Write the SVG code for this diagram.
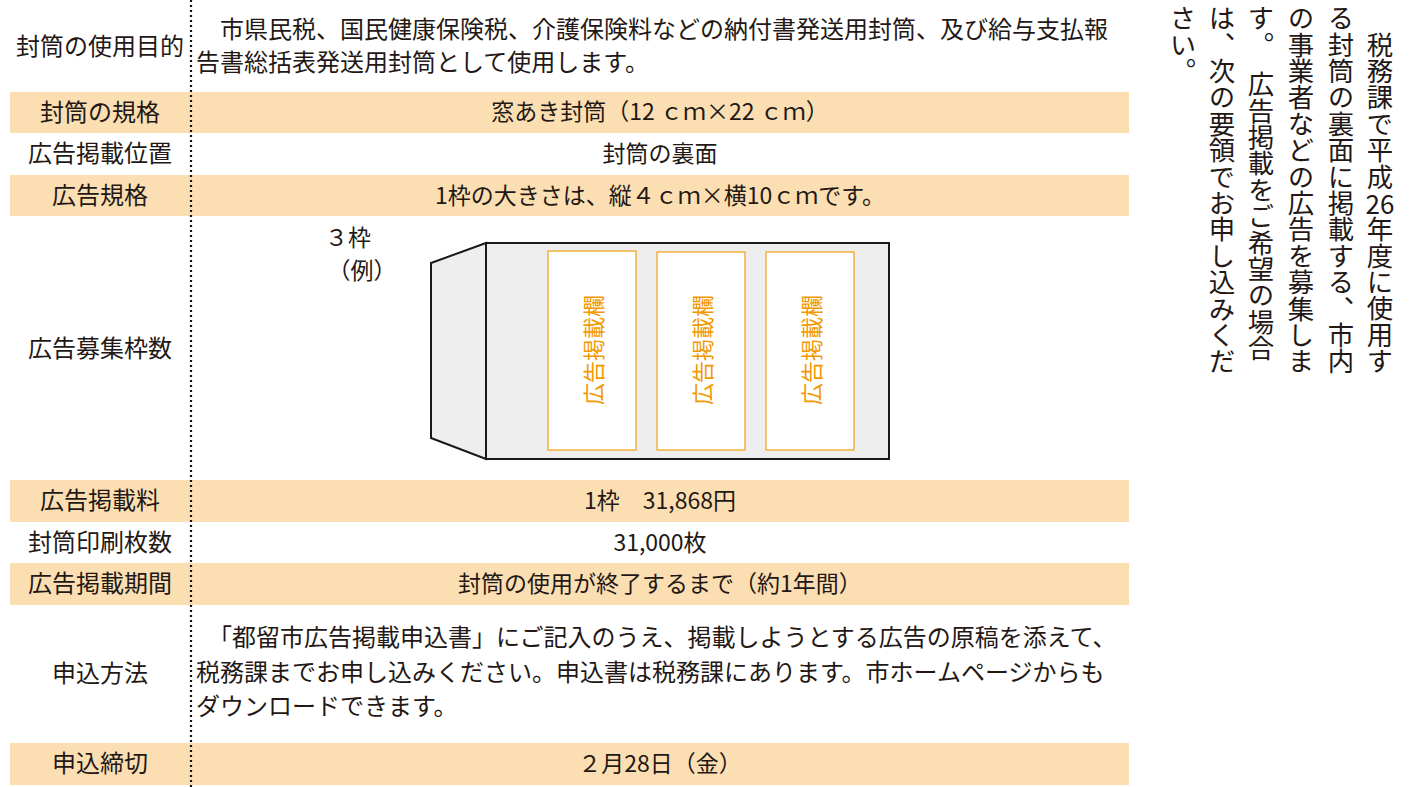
<svg xmlns="http://www.w3.org/2000/svg" width="1413" height="787" viewBox="0 0 1413 787">
<style>
text{font-family:"Noto Sans CJK JP","Noto Sans",sans-serif;fill:#231815;}
.lab{font-size:24px;text-anchor:middle;}
.val{font-size:23px;text-anchor:middle;}
.para{font-size:24px;}
.band{fill:#FBDFB2;}
.vert{font-size:26.4px;writing-mode:vertical-rl;}
.ad{font-size:22px;fill:#F39800;text-anchor:middle;dominant-baseline:central;}
.adbox{fill:#fff;stroke:#F5A623;stroke-width:1.3;}
.env{fill:#EDEEED;stroke:#1A1A1A;stroke-width:2;stroke-linejoin:miter;}
</style>
<rect width="1413" height="787" fill="#fff"/>
<g id="bands">
<rect class="band" x="10" y="92" width="1119" height="41"/>
<rect class="band" x="10" y="175" width="1119" height="41"/>
<rect class="band" x="10" y="480" width="1119" height="42"/>
<rect class="band" x="10" y="563" width="1119" height="42"/>
<rect class="band" x="10" y="743" width="1119" height="42"/>
</g>
<g id="divider">
<line x1="191" y1="0" x2="191" y2="787" stroke="#111" stroke-width="2.2" stroke-dasharray="2,3"/>
</g>
<g id="row-purpose">
<text class="lab" x="100" y="55">封筒の使用目的</text>
<text class="para" x="196" y="38">　市県民税、国民健康保険税、介護保険料などの納付書発送用封筒、及び給与支払報</text>
<text class="para" x="196" y="71">告書総括表発送用封筒として使用します。</text>
</g>
<g id="row-spec">
<text class="lab" x="100" y="121">封筒の規格</text>
<text class="val" x="660" y="120">窓あき封筒（12 ｃｍ×22 ｃｍ）</text>
</g>
<g id="row-position">
<text class="lab" x="100" y="162">広告掲載位置</text>
<text class="val" x="660" y="162">封筒の裏面</text>
</g>
<g id="row-adspec">
<text class="lab" x="100" y="204">広告規格</text>
<text class="val" x="660" y="204">1枠の大きさは、縦４ｃｍ×横10ｃｍです。</text>
</g>
<g id="row-slots">
<text class="lab" x="100" y="357">広告募集枠数</text>
<text class="val" x="348" y="246" font-size="22">３枠</text>
<text class="val" x="362" y="279" font-size="22">（例）</text>
<polygon class="env" points="431,263 486,243 486,459 431,438"/>
<rect class="env" x="486" y="243" width="403" height="216"/>
<rect class="adbox" x="548" y="251" width="88" height="199"/>
<rect class="adbox" x="657" y="252" width="88" height="198"/>
<rect class="adbox" x="766" y="252" width="88" height="198"/>
<text class="ad" transform="translate(592,350) rotate(-90)">広告掲載欄</text>
<text class="ad" transform="translate(701,350) rotate(-90)">広告掲載欄</text>
<text class="ad" transform="translate(810,350) rotate(-90)">広告掲載欄</text>
</g>
<g id="row-fee">
<text class="lab" x="100" y="509">広告掲載料</text>
<text class="val" x="660" y="509">1枠　31,868円</text>
</g>
<g id="row-count">
<text class="lab" x="100" y="551">封筒印刷枚数</text>
<text class="val" x="660" y="551">31,000枚</text>
</g>
<g id="row-period">
<text class="lab" x="100" y="592">広告掲載期間</text>
<text class="val" x="660" y="592">封筒の使用が終了するまで（約1年間）</text>
</g>
<g id="row-method">
<text class="lab" x="100" y="682">申込方法</text>
<text class="para" x="196" y="646">　「都留市広告掲載申込書」にご記入のうえ、掲載しようとする広告の原稿を添えて、</text>
<text class="para" x="196" y="681">税務課までお申し込みください。申込書は税務課にあります。市ホームページからも</text>
<text class="para" x="196" y="715">ダウンロードできます。</text>
</g>
<g id="row-deadline">
<text class="lab" x="100" y="772">申込締切</text>
<text class="val" x="660" y="772">２月28日（金）</text>
</g>
<g id="notice">
<text class="vert" x="1380" y="5">　税務課で平成</text>
<text x="1380" y="214" font-size="26" text-anchor="middle">26</text>
<text class="vert" x="1380" y="216">年度に使用す</text>
<text class="vert" x="1341" y="5">る封筒の裏面に掲載する、市内</text>
<text class="vert" x="1301" y="5">の事業者などの広告を募集しま</text>
<text class="vert" x="1261" y="5">す。　広告掲載をご希望の場合</text>
<text class="vert" x="1222" y="5">は、次の要領でお申し込みくだ</text>
<text class="vert" x="1183" y="5">さい。</text>
</g>
</svg>
